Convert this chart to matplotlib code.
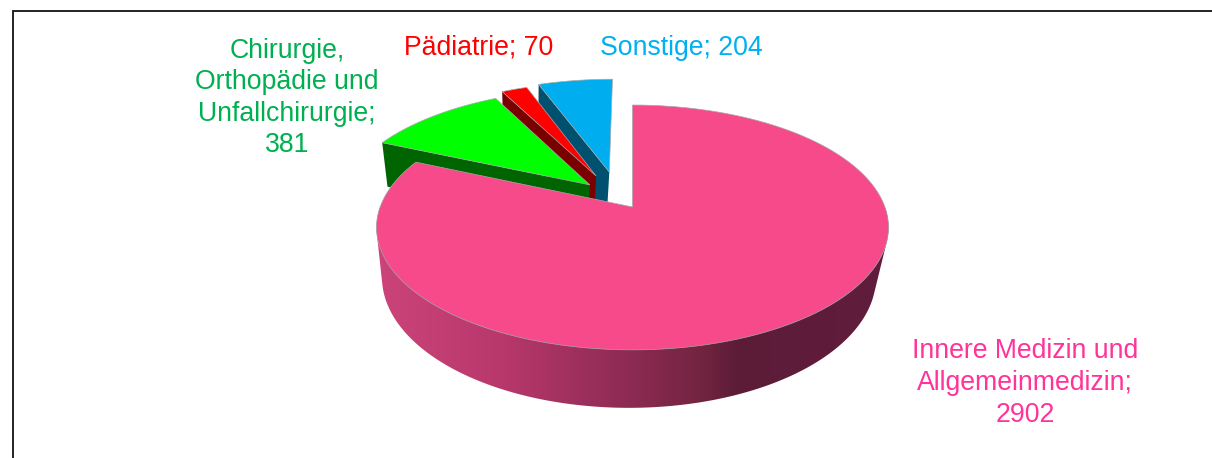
import numpy as np
import matplotlib
matplotlib.use('Agg')
import matplotlib.pyplot as plt
from matplotlib.colors import LinearSegmentedColormap
from matplotlib.patches import Polygon

plt.rcParams['font.family'] = ['Liberation Sans', 'DejaVu Sans']

# slices, clockwise from 12 o'clock
names = ['Innere Medizin und\nAllgemeinmedizin;\n', 'Chirurgie,\nOrthopädie und\nUnfallchirurgie;\n',
         'Pädiatrie; ', 'Sonstige; ']
values = [2902, 381, 70, 204]

top_colors = ['#F64A8A', '#00FF00', '#FF0000', '#00ADEF']
face_colors = ['#8A2A52', '#006400', '#7A0000', '#00506F']
text_colors = ['#FF3399', '#00B050', '#FF0000', '#00B0F0']

# how far each slice is pulled out and in which direction (deg clockwise from top)
explode = [0, 0.259, 0.311, 0.323]
explode_dir = [0, 317.7, 331, 342.6]

label_pos = [(1025, 383), (287, 98), (479, 48), (681, 48)]

# projected pie geometry, in pixels
APEX_X, APEX_Y = 632.5, 207
RX, RY = 252.4, 119
PERSP = 0.167
DEPTH = 48.3
BOTTOM_SHRINK = 0.965
BOTTOM_SHIFT = -3.5

wall_cmap = LinearSegmentedColormap.from_list('wall', [
    (0.0, '#CB4379'), (0.25, '#B8386C'), (0.52, '#8B2A52'),
    (0.66, '#72243F'), (0.73, '#5C1C38'), (1.0, '#601C3C')])


def project(x, y, bottom=False):
    # x right, y away from viewer, pie radius 1
    s = 1 / (1 + PERSP * y)
    px = RX * x * s
    py = -RY * y * s
    if bottom:
        px = px * BOTTOM_SHRINK + BOTTOM_SHIFT
        py = py + DEPTH * s
    return APEX_X + px, APEX_Y + py


def arc(t0, t1, dx, dy, bottom=False, n=200):
    t = np.radians(np.linspace(t0, t1, n))
    return project(dx + np.sin(t), dy + np.cos(t), bottom)


def hull(points):
    # monotone chain, the wall outline has to be convex
    pts = sorted(map(tuple, points))
    def half(seq):
        out = []
        for p in seq:
            while len(out) > 1 and ((out[-1][0] - out[-2][0]) * (p[1] - out[-2][1])
                                    - (out[-1][1] - out[-2][1]) * (p[0] - out[-2][0])) <= 0:
                out.pop()
            out.append(p)
        return out[:-1]
    return np.array(half(pts) + half(pts[::-1]))


fig = plt.figure(figsize=(12.12, 4.58), dpi=100)
ax = fig.add_axes([0, 0, 1, 1])

# frame, only top and left are inside the picture
ax.plot([13, 13, 1212], [458, 11, 11], color='#111111', lw=1.3, solid_joinstyle='miter')

angles = np.cumsum([0] + values) / sum(values) * 360

# back slices first, main slice goes over them
for i in [3, 2, 1, 0]:
    t0, t1 = angles[i], angles[i + 1]
    d = np.radians(explode_dir[i])
    dx, dy = explode[i] * np.sin(d), explode[i] * np.cos(d)
    ax_, ay_ = project(dx, dy)

    if i == 0:
        # outer wall, shaded left to right
        xt, yt = arc(90, 270, dx, dy)
        xb, yb = arc(90, 270, dx, dy, bottom=True)
        outline = hull(np.r_[np.c_[xt, yt], np.c_[xb, yb]])
        clip = Polygon(outline, closed=True, fc='none', ec='none')
        ax.add_patch(clip)
        grad = wall_cmap(np.linspace(0, 1, 490))[None, :, :3]
        img = ax.imshow(grad, extent=(380, 870, 420, 180), aspect='auto', zorder=1)
        img_l = ax.imshow(grad[:, :1], extent=(370, 380, 420, 180), aspect='auto', zorder=1)
        img_r = ax.imshow(grad[:, -1:], extent=(870, 895, 420, 180), aspect='auto', zorder=1)
        for im in (img, img_l, img_r):
            im.set_clip_path(clip)
    else:
        # cut face on the side of the start angle
        xe, ye = project(dx + np.sin(np.radians(t0)), dy + np.cos(np.radians(t0)))
        xeb, yeb = project(dx + np.sin(np.radians(t0)), dy + np.cos(np.radians(t0)), True)
        xab, yab = project(dx, dy, True)
        ax.add_patch(Polygon([(xe, ye), (ax_, ay_), (xab, yab), (xeb, yeb)], closed=True,
                             fc=face_colors[i], ec='none', zorder=1))

    x, y = arc(t0, t1, dx, dy)
    ax.add_patch(Polygon(np.r_[[[ax_, ay_]], np.c_[x, y]], closed=True, fc=top_colors[i],
                         ec='#A8A8A8', lw=0.5, zorder=2))

for name, val, col, pos in zip(names, values, text_colors, label_pos):
    ax.text(pos[0], pos[1], name + str(val), color=col, fontsize=19.2, ha='center', va='center',
            linespacing=1.28, multialignment='center', zorder=3)

ax.set_xlim(0, 1212)
ax.set_ylim(458, 0)
ax.axis('off')

fig.savefig('out.png', dpi=100)
